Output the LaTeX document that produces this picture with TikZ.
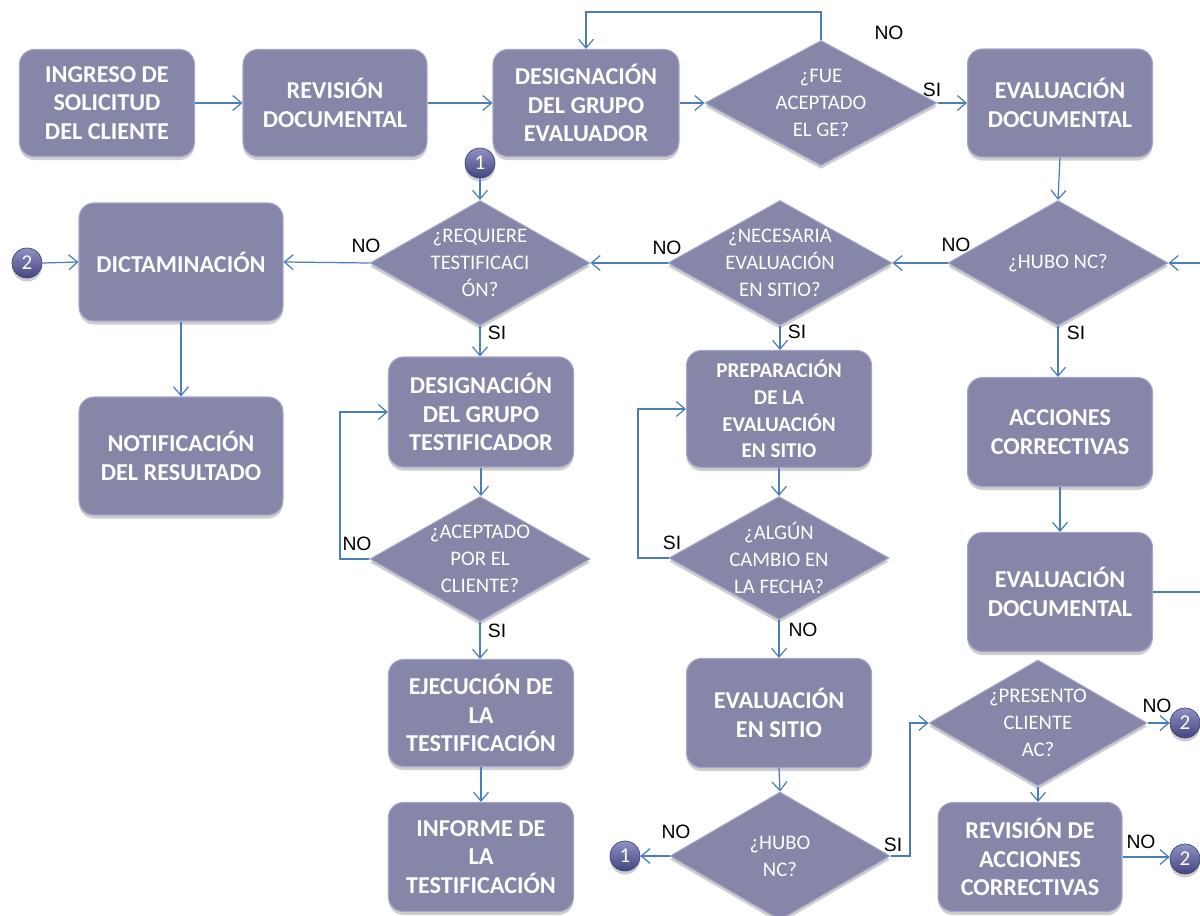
\documentclass[tikz,border=0pt]{standalone}
\usepackage{fontspec}
\setmainfont{Carlito}
\newfontfamily\lblfont{Liberation Sans}
\usetikzlibrary{shapes.geometric,arrows.meta,shadows}
\definecolor{boxfill}{HTML}{8586A8}
\definecolor{boxedge}{HTML}{A2A4C9}
\definecolor{link}{HTML}{4A7EBB}
\definecolor{dotdark}{HTML}{42467F}
\definecolor{dotlight}{HTML}{8E91C3}
\tikzset{
  softshadow/.style={drop shadow={shadow xshift=0pt,shadow yshift=-2pt,opacity=0.35,fill=black!55}},
  stepbox/.style={rectangle, rounded corners=8.5pt, fill=boxfill, draw=boxedge, line width=0.6pt,
    softshadow, text=white, font=\fontsize{13.8}{16.4}\selectfont\bfseries, align=center, inner sep=2pt},
  smallbox/.style={stepbox, font=\fontsize{12}{15.1}\selectfont\bfseries},
  decision/.style={diamond, fill=boxfill, draw=boxedge, line width=0.6pt, softshadow, inner sep=0pt},
  qtext/.style={text=white, font=\fontsize{11.8}{15.5}\selectfont, align=center, inner sep=0pt},
  connector/.style={draw=link, line width=0.7pt, -{Straight Barb[length=5pt,width=8.5pt]}},
  plainline/.style={draw=link, line width=0.7pt},
  answer/.style={font=\lblfont\fontsize{11}{12}\selectfont, text=black, inner sep=0pt},
  pageref/.style={circle, minimum size=0.6cm, inner sep=0pt, top color=dotlight, bottom color=dotdark,
    draw=dotdark, line width=0.4pt, text=white, font=\fontsize{12}{12}\selectfont, softshadow},
}
\begin{document}
\begin{tikzpicture}[x=0.02cm, y=-0.02cm]
\useasboundingbox (0,0) rectangle (1200,916);

% ---- top row
\node[stepbox, minimum width=3.5cm, minimum height=2.14cm] (ingreso) at (107,103) {INGRESO DE\\SOLICITUD\\DEL CLIENTE};
\node[stepbox, minimum width=3.68cm, minimum height=2.14cm] (revision) at (335,103) {REVISIÓN\\DOCUMENTAL};
\node[stepbox, minimum width=3.72cm, minimum height=2.14cm] (desigEval) at (586,103) {DESIGNACIÓN\\DEL GRUPO\\EVALUADOR};
\node[decision, minimum width=4.64cm, minimum height=2.5cm,
      label={[qtext]center:{¿FUE\\ACEPTADO\\EL GE?}}] (fueAcept) at (821,103) {};
\node[stepbox, minimum width=3.7cm, minimum height=2.16cm] (evalDoc) at (1060,103) {EVALUACIÓN\\DOCUMENTAL};

% ---- second row of decisions
\node[decision, minimum width=4.4cm, minimum height=2.5cm,
      label={[qtext]center:{¿HUBO NC?}}] (huboNC) at (1058,263) {};
\node[decision, minimum width=4.48cm, minimum height=2.5cm,
      label={[qtext]center:{¿NECESARIA\\EVALUACIÓN\\EN SITIO?}}] (necesaria) at (780,263) {};
\node[decision, minimum width=4.4cm, minimum height=2.5cm,
      label={[qtext]center:{¿REQUIERE\\TESTIFICACI\\ÓN?}}] (requiere) at (480,263) {};
\node[stepbox, minimum width=4.08cm, minimum height=2.36cm] (dictam) at (181,262) {DICTAMINACIÓN};
\node[stepbox, minimum width=4.08cm, minimum height=2.36cm] (notif) at (181,456) {NOTIFICACIÓN\\DEL RESULTADO};

% ---- corrective actions column
\node[stepbox, minimum width=3.7cm, minimum height=2.18cm] (acciones) at (1060,432) {ACCIONES\\CORRECTIVAS};
\node[stepbox, minimum width=3.7cm, minimum height=2.38cm] (evalDoc2) at (1060,592) {EVALUACIÓN\\DOCUMENTAL};
\node[decision, minimum width=4.36cm, minimum height=2.52cm,
      label={[qtext]center:{¿PRESENTO\\CLIENTE\\AC?}}] (presento) at (1038,723) {};
\node[stepbox, minimum width=3.68cm, minimum height=2.18cm] (revAC) at (1030,857) {REVISIÓN DE\\ACCIONES\\CORRECTIVAS};

% ---- on-site evaluation column
\node[smallbox, minimum width=3.7cm, minimum height=2.34cm] (prep) at (779,409) {PREPARACIÓN\\DE LA\\EVALUACIÓN\\EN SITIO};
\node[decision, minimum width=4.4cm, minimum height=2.46cm,
      label={[qtext]center:{¿ALGÚN\\CAMBIO EN\\LA FECHA?}}] (cambio) at (779,558) {};
\node[stepbox, minimum width=3.7cm, minimum height=2.18cm] (evalSitio) at (779,713) {EVALUACIÓN\\EN SITIO};
\node[decision, minimum width=4.4cm, minimum height=2.56cm,
      label={[qtext]center:{¿HUBO\\NC?}}] (huboNC2) at (780,856) {};

% ---- witnessing column
\node[stepbox, minimum width=3.7cm, minimum height=2.2cm] (desigTest) at (481,412) {DESIGNACIÓN\\DEL GRUPO\\TESTIFICADOR};
\node[decision, minimum width=4.4cm, minimum height=2.5cm,
      label={[qtext]center:{¿ACEPTADO\\POR EL\\CLIENTE?}}] (aceptCli) at (480,559) {};
\node[stepbox, minimum width=3.7cm, minimum height=2.14cm] (ejec) at (481,713) {EJECUCIÓN DE\\LA\\TESTIFICACIÓN};
\node[stepbox, minimum width=3.7cm, minimum height=2.18cm] (informe) at (481,857) {INFORME DE\\LA\\TESTIFICACIÓN};

% ---- off-page references
\node[pageref] (ref1a) at (480,163) {1};
\node[pageref] (ref2a) at (27,263) {2};
\node[pageref] (ref1b) at (625,856) {1};
\node[pageref] (ref2b) at (1185,723) {2};
\node[pageref] (ref2c) at (1185,859) {2};

% ---- bend points
\coordinate (loopTop) at (700,12);
\coordinate (rightA) at (1215,592);
\coordinate (rightB) at (1215,263);
\coordinate (acBend) at (340,559);
\coordinate (chgBend) at (638,558);
\coordinate (siBend) at (910,856);

% ---- connectors
\draw[connector] (ingreso) -- (revision);
\draw[connector] (revision) -- (desigEval);
\draw[connector] (desigEval) -- (fueAcept);
\draw[connector] (fueAcept.north) -- (fueAcept.north |- loopTop) -| (desigEval.north);
\draw[connector] (fueAcept.east) -- (evalDoc.west);
\draw[connector] (evalDoc.south) -- (huboNC.north);
\draw[connector] (huboNC.west) -- (necesaria.east);
\draw[connector] (huboNC.south) -- (acciones.north -| huboNC.south);
\draw[connector] (acciones.south) -- (evalDoc2.north);
\draw[connector] (evalDoc2.east) -- (rightA) -- (rightB) -- (huboNC.east);
\draw[connector] (presento.east) -- (ref2b.west);
\draw[connector] (presento.south) -- (revAC.north -| presento.south);
\draw[connector] (revAC.east) -- (ref2c.west |- revAC.east);
\draw[connector] (necesaria.west) -- (requiere.east);
\draw[connector] (necesaria.south) -- (prep.north -| necesaria.south);
\draw[connector] (prep.south) -- (cambio.north);
\draw[connector] (cambio.west) -- (chgBend) |- (prep.west);
\draw[connector] (cambio.south) -- (evalSitio.north);
\draw[connector] (evalSitio.south) -- (huboNC2.north);
\draw[connector] (huboNC2.west) -- (ref1b.east);
\draw[connector] (huboNC2.east) -- (siBend) |- (presento.west);
\draw[connector] (ref1a.south) -- (requiere.north);
\draw[connector] (requiere.west) -- (dictam.east);
\draw[connector] (ref2a.east) -- (dictam.west);
\draw[connector] (dictam.south) -- (notif.north);
\draw[connector] (requiere.south) -- (desigTest.north -| requiere.south);
\draw[connector] (desigTest.south) -- (aceptCli.north -| desigTest.south);
\draw[connector] (aceptCli.west) -- (acBend) |- (desigTest.west);
\draw[connector] (aceptCli.south) -- (ejec.north -| aceptCli.south);
\draw[connector] (ejec.south) -- (informe.north);

% ---- answers on the branches
\node[answer] (aNoGE) at (889,33) {NO};
\node[answer] (aSiGE) at (932,90) {SI};
\node[answer] (aNoNC) at (956,245) {NO};
\node[answer] (aSiNC) at (1076,333) {SI};
\node[answer] (aNoSitio) at (667,248) {NO};
\node[answer] (aSiSitio) at (797,332) {SI};
\node[answer] (aNoTest) at (366,246) {NO};
\node[answer] (aSiTest) at (497,333) {SI};
\node[answer] (aNoCli) at (357,544) {NO};
\node[answer] (aSiCli) at (497,631) {SI};
\node[answer] (aSiFecha) at (672,543) {SI};
\node[answer] (aNoFecha) at (803,630) {NO};
\node[answer] (aNoNC2) at (676,832) {NO};
\node[answer] (aSiNC2) at (893,845) {SI};
\node[answer] (aNoAC) at (1157,706) {NO};
\node[answer] (aNoRev) at (1141,842) {NO};
\end{tikzpicture}
\end{document}
